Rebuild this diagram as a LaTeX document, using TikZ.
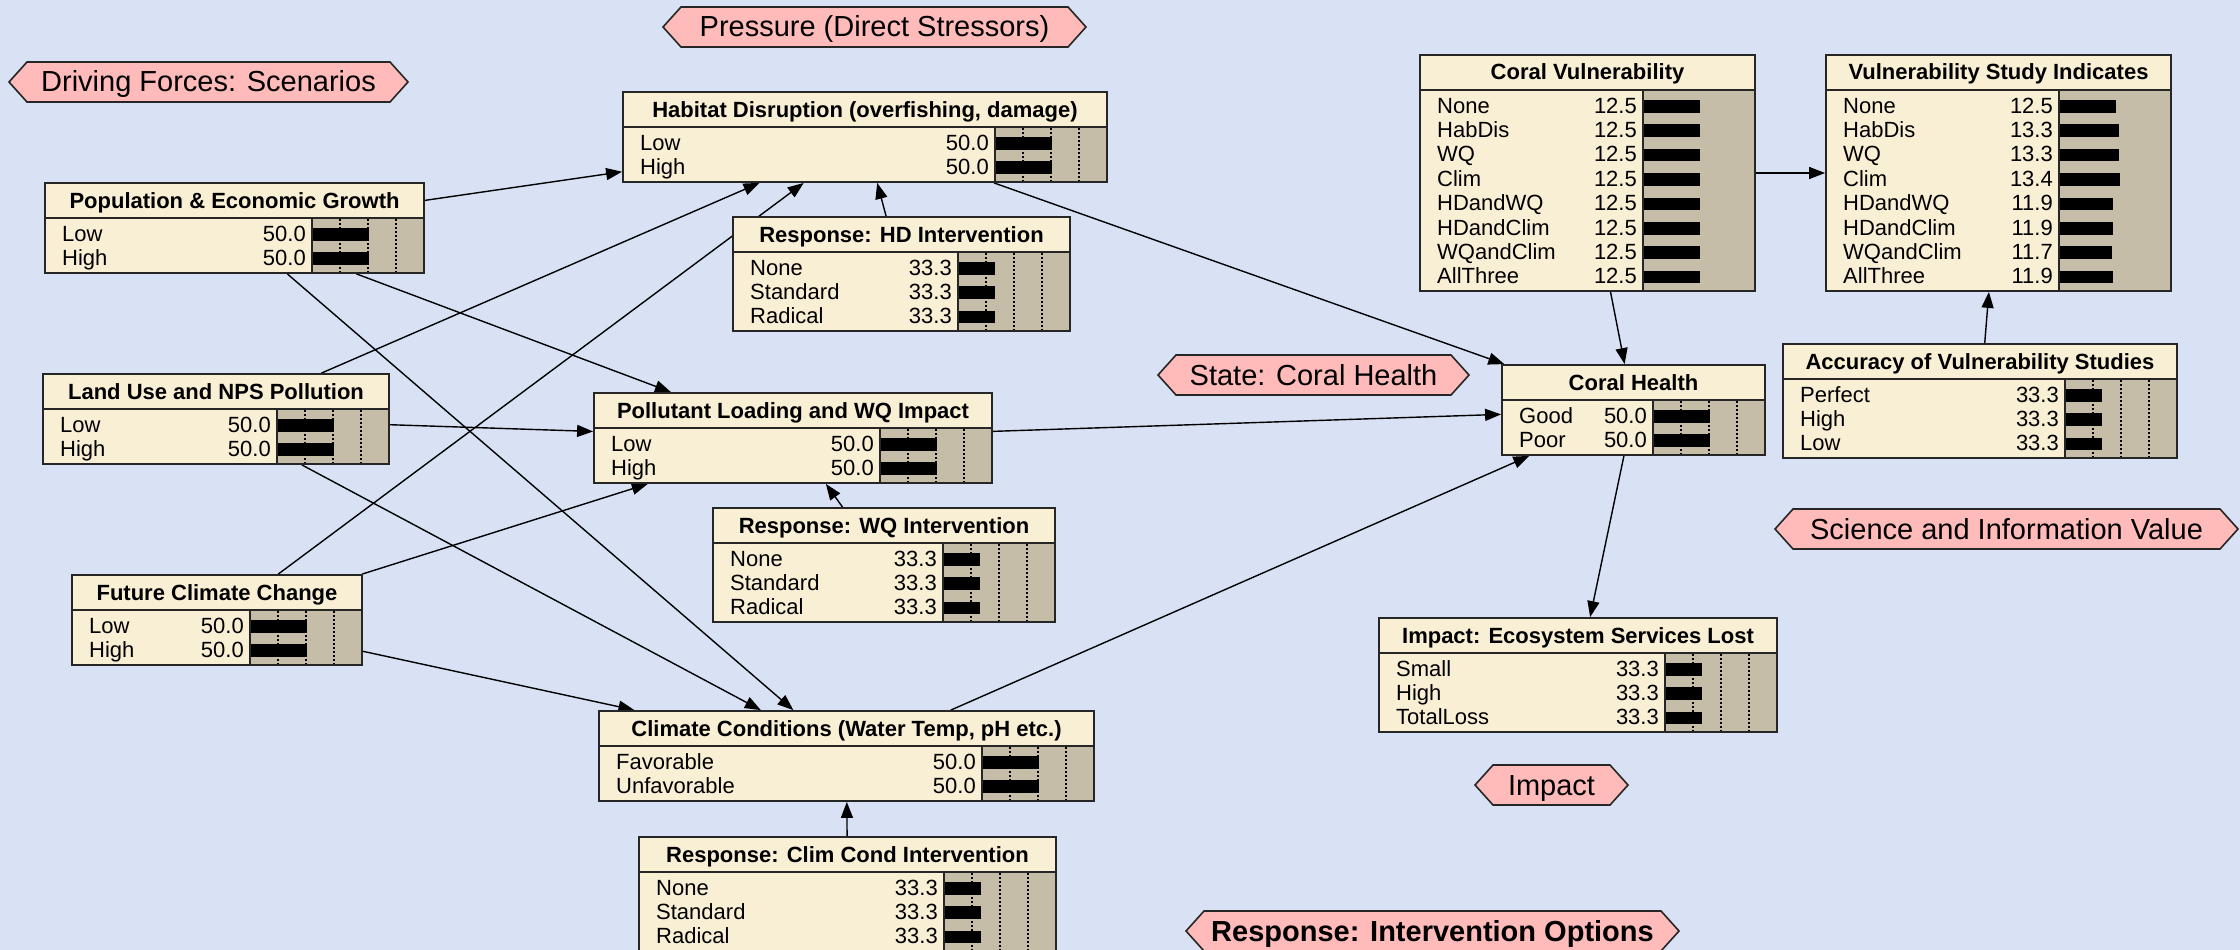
\documentclass[tikz,border=0pt]{standalone}
\usepackage{fontspec}
\setmainfont{Liberation Sans}
\usetikzlibrary{arrows.meta, fit}

\definecolor{paperblue}{RGB}{216,226,244}
\definecolor{boxcream}{RGB}{248,239,212}
\definecolor{barsand}{RGB}{197,189,168}
\definecolor{bannerpink}{RGB}{255,186,186}

\pgfdeclarelayer{backdrop}
\pgfdeclarelayer{links}
\pgfsetlayers{backdrop,links,main}

\tikzset{
	netbox/.style={fill=boxcream, inner sep=0pt, outer sep=0.9pt},
	netline/.style={draw=black!85, line width=1.8pt},
	nettitle/.style={font=\fontsize{22}{24}\selectfont\bfseries, anchor=base, inner sep=0pt},
	netstate/.style={font=\fontsize{22}{24}\selectfont, anchor=base west, inner sep=0pt},
	netvalue/.style={font=\fontsize{22}{24}\selectfont, anchor=base east, inner sep=0pt},
	bargrid/.style={draw=black, line width=1.2pt, dash pattern=on 1.5pt off 2.5pt},
	nogrid/.style={draw=none},
	bannerline/.style={fill=bannerpink, draw=black!85, line width=1.6pt},
	bannertext/.style={font=\fontsize{29}{32}\selectfont, anchor=base, inner sep=0pt},
	netlink/.style={draw=black, line width=1.4pt, -{Triangle[length=16pt, width=12pt]}},
}

% box: name, left, top, right, bottom, title, grid style, rows (state/value/bar)
\newcommand{\netbox}[8]{%
	\node[netbox, fit={(#2,#3) (#4,#5)}] (#1) {};
	\fill[barsand] (#4-112,#3+35) rectangle (#4,#5);
	\foreach \g in {28,56,84}
		\draw[#7] (#4-112+\g,#3+36) -- (#4-112+\g,#5);
	\node[nettitle] (#1t) at ({(#2+#4)/2},#3+25) {#6};
	\foreach \lbl/\val/\len [count=\i] in {#8} {
		\node[netstate] (#1s\i) at (#2+17,#3+58+24.4*\i-24.4) {\lbl};
		\node[netvalue] (#1v\i) at (#4-118,#3+58+24.4*\i-24.4) {\val};
		\fill (#4-112,#3+45+24.4*\i-24.4) rectangle (#4-112+\len,#3+57.5+24.4*\i-24.4);
	}
	\draw[netline] (#2,#3+35) -- (#4,#3+35) (#4-112,#3+35) -- (#4-112,#5);
	\draw[netline] (#2,#3) rectangle (#4,#5);
}

% banner: name, left tip, right tip, top, text
\newcommand{\netbanner}[5]{%
	\draw[bannerline] (#2,#4+20) -- (#2+18,#4) -- (#3-18,#4) -- (#3,#4+20)
		-- (#3-18,#4+40) -- (#2+18,#4+40) -- cycle;
	\node[bannertext] (#1) at ({(#2+#3)/2},#4+30) {#5};
}

\begin{document}
\begin{tikzpicture}[x=1pt, y=-1pt]
	\useasboundingbox (0,0) rectangle (2240,950);
	\begin{pgfonlayer}{backdrop}
		\fill[paperblue] (0,0) rectangle (2240,950);
	\end{pgfonlayer}

	% section banners
	\netbanner{drive}{9}{408}{62}{Driving Forces: Scenarios}
	\netbanner{press}{663}{1086}{7}{Pressure (Direct Stressors)}
	\netbanner{state}{1158}{1469}{355}{State: Coral Health}
	\netbanner{science}{1775}{2238}{509}{Science and Information Value}
	\netbanner{impact}{1475}{1628}{765}{Impact}
	\netbanner{respond}{1186}{1679}{911}{\bfseries Response: Intervention Options}

	% driving forces
	\netbox{pop}{45}{183}{424}{273}{Population \& Economic Growth}{bargrid}{Low/50.0/57, High/50.0/57}
	\netbox{land}{43}{374}{389}{464}{Land Use and NPS Pollution}{bargrid}{Low/50.0/57, High/50.0/57}
	\netbox{fcc}{72}{575}{362}{665}{Future Climate Change}{bargrid}{Low/50.0/57, High/50.0/57}

	% pressures and responses
	\netbox{hab}{623}{92}{1107}{182}{Habitat Disruption (overfishing, damage)}{bargrid}{Low/50.0/57, High/50.0/57}
	\netbox{hdint}{733}{217}{1070}{331}{Response: HD Intervention}{bargrid}{None/33.3/37, Standard/33.3/37, Radical/33.3/37}
	\netbox{poll}{594}{393}{992}{483}{Pollutant Loading and WQ Impact}{bargrid}{Low/50.0/57, High/50.0/57}
	\netbox{wqint}{713}{508}{1055}{622}{Response: WQ Intervention}{bargrid}{None/33.3/37, Standard/33.3/37, Radical/33.3/37}
	\netbox{clim}{599}{711}{1094}{801}{Climate Conditions (Water Temp, pH etc.)}{bargrid}{Favorable/50.0/57, Unfavorable/50.0/57}
	\netbox{ccint}{639}{837}{1056}{951}{Response: Clim Cond Intervention}{bargrid}{None/33.3/37, Standard/33.3/37, Radical/33.3/37}

	% state, impact, science
	\netbox{cv}{1420}{55}{1755}{291}{Coral Vulnerability}{nogrid}{None/12.5/57, HabDis/12.5/57, WQ/12.5/57, Clim/12.5/57, HDandWQ/12.5/57, HDandClim/12.5/57, WQandClim/12.5/57, AllThree/12.5/57}
	\netbox{vsi}{1826}{55}{2171}{291}{Vulnerability Study Indicates}{nogrid}{None/12.5/57, HabDis/13.3/60, WQ/13.3/60, Clim/13.4/61, HDandWQ/11.9/54, HDandClim/11.9/54, WQandClim/11.7/53, AllThree/11.9/54}
	\netbox{ch}{1502}{365}{1765}{455}{Coral Health}{bargrid}{Good/50.0/57, Poor/50.0/57}
	\netbox{acc}{1783}{344}{2177}{458}{Accuracy of Vulnerability Studies}{bargrid}{Perfect/33.3/37, High/33.3/37, Low/33.3/37}
	\netbox{imp}{1379}{618}{1777}{732}{Impact: Ecosystem Services Lost}{bargrid}{Small/33.3/37, High/33.3/37, TotalLoss/33.3/37}

	\begin{pgfonlayer}{links}
		\draw[netlink] (pop) -- (hab);
		\draw[netlink] (pop) -- (poll);
		\draw[netlink] (pop) -- (clim);
		\draw[netlink] (land) -- (hab);
		\draw[netlink] (land) -- (poll);
		\draw[netlink] (land) -- (clim);
		\draw[netlink] (fcc) -- (hab);
		\draw[netlink] (fcc) -- (poll);
		\draw[netlink] (fcc) -- (clim);
		\draw[netlink] (hdint) -- (hab);
		\draw[netlink] (wqint) -- (poll);
		\draw[netlink] (ccint) -- (clim);
		\draw[netlink] (hab) -- (ch);
		\draw[netlink] (poll) -- (ch);
		\draw[netlink] (clim) -- (ch);
		\draw[netlink] (cv) -- (ch);
		\draw[netlink] (cv) -- (vsi);
		\draw[netlink] (acc) -- (vsi);
		\draw[netlink] (ch) -- (imp);
	\end{pgfonlayer}
\end{tikzpicture}
\end{document}
